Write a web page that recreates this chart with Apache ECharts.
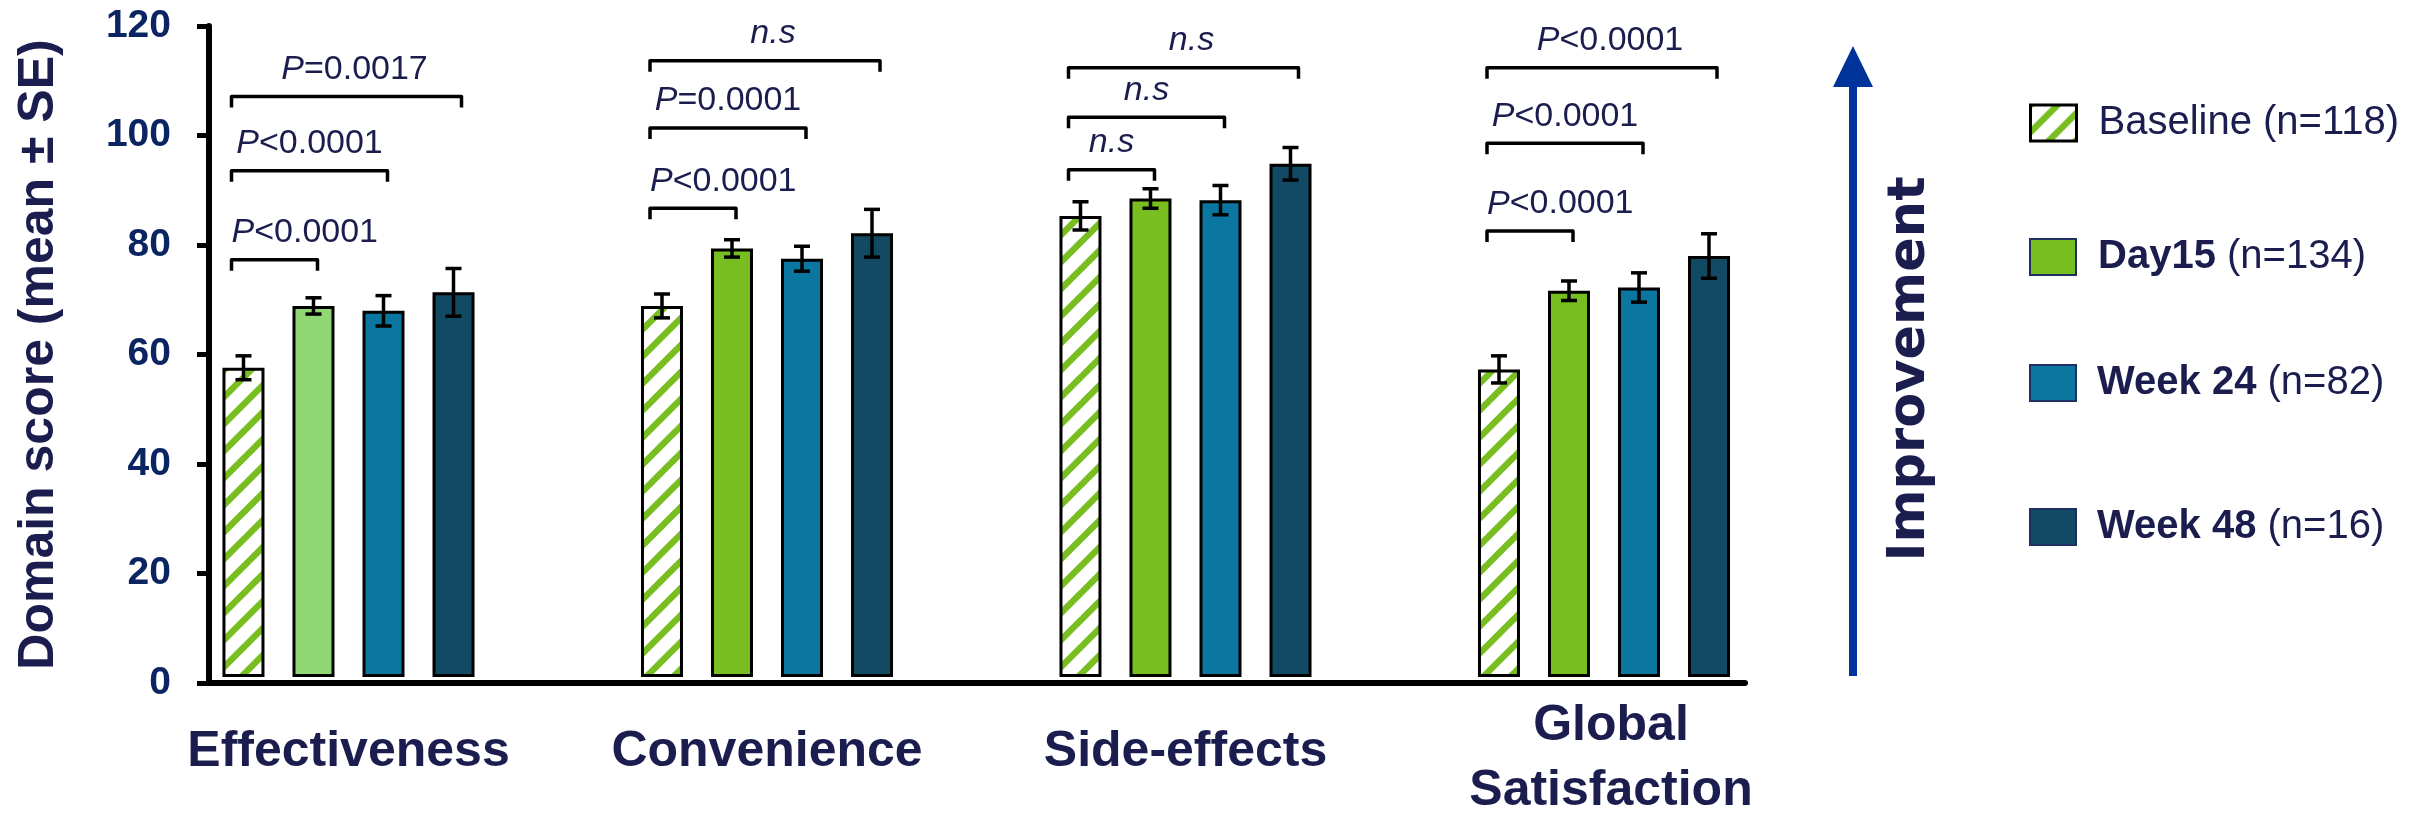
<!DOCTYPE html>
<html><head><meta charset="utf-8">
<script src="https://cdn.jsdelivr.net/npm/echarts@6/dist/echarts.min.js"></script>
<style>html,body{margin:0;padding:0;background:#fff}#c{width:2423px;height:817px}</style>
</head><body><div id="c"></div>
<script>
// ---------- data ----------
const categories = ['Effectiveness', 'Convenience', 'Side-effects', 'Global\nSatisfaction'];
const seriesNames = ['Baseline', 'Day15', 'Week 24', 'Week 48'];
const seriesN = ['(n=118)', '(n=134)', '(n=82)', '(n=16)'];
const baselineMean = [57.0, 68.4, 85.0, 56.7];
const baselineSE   = [2.2, 2.2, 2.6, 2.5];
const day15Mean    = [68.4, 79.0, 88.2, 71.2];
const day15SE      = [1.5, 1.6, 1.8, 1.8];
const week24Mean   = [67.5, 77.1, 87.9, 71.8];
const week24SE     = [2.8, 2.3, 2.7, 2.7];
const week48Mean   = [70.9, 81.8, 94.6, 77.6];
const week48SE     = [4.4, 4.4, 3.0, 4.1];
const yTicks = [0, 20, 40, 60, 80, 100, 120];
// significance comparisons (all vs Baseline)
const compCategory = [0, 0, 0, 1, 1, 1, 2, 2, 2, 3, 3, 3];
const compTo       = [1, 2, 3, 1, 2, 3, 1, 2, 3, 1, 2, 3];
const compLevel    = [76.9, 93.3, 107.0, 86.4, 101.2, 113.6, 93.5, 103.2, 112.3, 82.2, 98.4, 112.3];
const compLabel    = ['P<0.0001', 'P<0.0001', 'P=0.0017', 'P<0.0001', 'P=0.0001', 'n.s',
                      'n.s', 'n.s', 'n.s', 'P<0.0001', 'P<0.0001', 'P<0.0001'];

// ---------- styles ----------
const FONT = '"Liberation Sans", Arial, sans-serif';
const NAVY_T = '#1a1d4e';
const TICK_C = '#0b2462';
const PITCH = 70;

function hatchCanvas() {
  const P = 27, c = document.createElement('canvas');
  c.width = P; c.height = P;
  const g = c.getContext('2d');
  g.fillStyle = '#ffffff'; g.fillRect(0, 0, P, P);
  g.strokeStyle = '#78be21'; g.lineWidth = 6.5;
  for (let k = -1; k <= 1; k++) {
    g.beginPath(); g.moveTo(k * P - 3, P + 3); g.lineTo(k * P + P + 3, -3); g.stroke();
  }
  return c;
}
const hatch = { image: hatchCanvas(), repeat: 'repeat' };

const means = [baselineMean, day15Mean, week24Mean, week48Mean];
const ses = [baselineSE, day15SE, week24SE, week48SE];
const fills = [hatch, '#78be21', '#0b76a0', '#124a63'];

const barSeries = seriesNames.map((name, s) => ({
  type: 'bar', name, xAxisIndex: 1, yAxisIndex: 1,
  barWidth: 42, barGap: '66.7%',
  data: means[s].map((v, i) => (s === 1 && i === 0) ? { value: v, itemStyle: { color: '#8fd873' } } : v),
  itemStyle: { color: fills[s], borderColor: '#000', borderWidth: 3 },
  z: 2
}));

const errData = [];
means.forEach((arr, s) => arr.forEach((v, i) => errData.push([i, s, v, ses[s][i]])));

const errSeries = {
  type: 'custom', name: 'err', xAxisIndex: 1, yAxisIndex: 1, z: 5,
  dimensions: ['c', 's', 'm', 'e'], encode: { x: 0, y: 2 },
  data: errData,
  renderItem(params, api) {
    const cat = api.value(0), s = api.value(1), m = api.value(2), e = api.value(3);
    const x = api.coord([cat, m])[0] + (s - 1.5) * PITCH;
    const yt = api.coord([cat, m + e])[1], yb = api.coord([cat, m - e])[1];
    const st = { stroke: '#000', lineWidth: 3.5 };
    return { type: 'group', children: [
      { type: 'line', shape: { x1: x, y1: yt, x2: x, y2: yb }, style: st },
      { type: 'line', shape: { x1: x - 8, y1: yt, x2: x + 8, y2: yt }, style: st },
      { type: 'line', shape: { x1: x - 8, y1: yb, x2: x + 8, y2: yb }, style: st }
    ]};
  }
};

const measureCtx = document.createElement('canvas').getContext('2d');
measureCtx.font = '34px ' + FONT;

const compData = compCategory.map((c, i) => [c, compTo[i], compLevel[i], i]);
const compSeries = {
  type: 'custom', name: 'comp', xAxisIndex: 1, yAxisIndex: 1, z: 6,
  dimensions: ['c', 't', 'l', 'k'], encode: { x: 0, y: 2 },
  data: compData,
  renderItem(params, api) {
    const cat = api.value(0), to = api.value(1), lvl = api.value(2), k = api.value(3);
    const p = api.coord([cat, lvl]);
    const cx = p[0], y = p[1];
    const x1 = cx + (0 - 1.5) * PITCH - 12;
    const x2 = cx + (to - 1.5) * PITCH + (to === 3 ? 8 : 4);
    const lab = compLabel[k];
    const isP = lab.charAt(0) === 'P';
    const txt = isP ? '{i|P}{r|' + lab.slice(1) + '}' : '{i|' + lab + '}';
    const tw = measureCtx.measureText(lab).width;
    let tx = (x1 + x2) / 2 + (to === 3 ? 8 : 0), align = 'center';
    if (tw > x2 - x1) { tx = x1; align = 'left'; }
    const st = { stroke: '#000', lineWidth: 3.5, fill: null, lineJoin: 'round' };
    return { type: 'group', children: [
      { type: 'polyline', shape: { points: [[x1, y + 11], [x1, y], [x2, y], [x2, y + 11]] }, style: st },
      { type: 'text', x: tx, y: y - 27, style: {
        text: txt, align: align, verticalAlign: 'middle',
        rich: {
          i: { fontStyle: 'italic', fontSize: 34, fontFamily: FONT, fill: NAVY_T, color: NAVY_T },
          r: { fontSize: 34, fontFamily: FONT, fill: NAVY_T, color: NAVY_T }
        }
      } }
    ]};
  }
};

const legendTops = [98, 232, 358, 502];
const legendPad = [17, 17, 16, 16];
const legends = seriesNames.map((name, i) => ({
  data: [name], left: 2024, top: legendTops[i], orient: 'vertical',
  itemWidth: 46, itemHeight: 36, icon: 'rect', selectedMode: false,
  itemStyle: { borderColor: i === 0 ? '#000' : '#1f3060', borderWidth: i === 0 ? 3 : 2 },
  formatter: n => i === 0 ? '{r|' + n + ' ' + seriesN[i] + '}' : '{b|' + n + '}{r| ' + seriesN[i] + '}',
  textStyle: {
    padding: [0, 0, 0, legendPad[i]], lineHeight: 36,
    rich: {
      b: { fontWeight: 'bold', fontSize: 40, fontFamily: FONT, color: NAVY_T, lineHeight: 36 },
      r: { fontSize: 40, fontFamily: FONT, color: NAVY_T, lineHeight: 36 }
    }
  }
}));

const catLabelStyle = { fontSize: 50, fontWeight: 'bold', fontFamily: FONT, color: NAVY_T };

const option = {
  animation: false,
  backgroundColor: '#ffffff',
  grid: [
    { left: 209, top: 26, width: 1536, height: 657 },
    { left: 139.25, top: 26, width: 1674, height: 657 }
  ],
  xAxis: [
    { type: 'value', gridIndex: 0, min: 0, max: 1,
      axisLine: { show: true, lineStyle: { color: '#000', width: 6 } },
      axisTick: { show: false }, axisLabel: { show: false }, splitLine: { show: false } },
    { type: 'category', gridIndex: 1, data: categories,
      axisLine: { show: false }, axisTick: { show: false }, splitLine: { show: false },
      axisLabel: Object.assign({ interval: 0, margin: 75, verticalAlign: 'middle', lineHeight: 60,
        formatter: v => v.indexOf('\n') >= 0 ? '{m|' + v + '}' : v,
        rich: { m: Object.assign({ lineHeight: 65, padding: [14, 0, 0, 14] }, catLabelStyle) }
      }, catLabelStyle) }
  ],
  yAxis: [
    { type: 'value', gridIndex: 0, min: yTicks[0], max: yTicks[yTicks.length - 1],
      interval: yTicks[1] - yTicks[0],
      name: 'Domain score (mean ± SE)', nameLocation: 'middle', nameGap: 145, nameRotate: 90,
      nameTextStyle: { fontSize: 50, fontWeight: 'bold', fontFamily: FONT, color: NAVY_T },
      axisLine: { show: true, lineStyle: { color: '#000', width: 6 } },
      axisTick: { show: true, length: 12, lineStyle: { color: '#000', width: 5 } },
      axisLabel: { margin: 38, fontSize: 39, fontWeight: 'bold', fontFamily: FONT, color: TICK_C },
      splitLine: { show: false } },
    { type: 'value', gridIndex: 1, min: yTicks[0], max: yTicks[yTicks.length - 1], show: false,
      splitLine: { show: false } }
  ],
  legend: legends,
  graphic: [
    { type: 'rect', shape: { x: 1849, y: 80, width: 8, height: 596 }, style: { fill: '#003399' } },
    { type: 'polygon', shape: { points: [[1853, 46], [1873, 87], [1833, 87]] }, style: { fill: '#003399' } },
    { type: 'text', x: 1911, y: 369, rotation: Math.PI / 2,
      style: { text: 'Improvement', font: 'bold 51px "DejaVu Sans", sans-serif', fill: NAVY_T,
        align: 'center', verticalAlign: 'middle' } }
  ],
  series: [...barSeries, errSeries, compSeries]
};

const chart = echarts.init(document.getElementById('c'), null, { renderer: 'canvas' });
chart.setOption(option);
</script>
</body></html>
